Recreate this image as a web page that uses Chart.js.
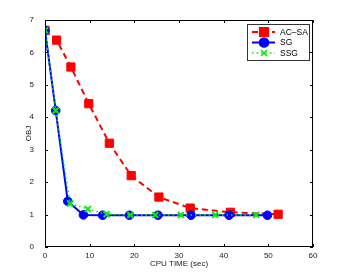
<!DOCTYPE html>
<html>
<head>
<meta charset="utf-8">
<script src="https://cdn.jsdelivr.net/npm/chart.js@4"></script>
<style>
  html, body { margin: 0; padding: 0; background: #fff; }
  #wrap { width: 346px; height: 277px; }
</style>
</head>
<body>
<div id="wrap"><canvas id="objChart" width="346" height="277"></canvas></div>
<script>
// values
const acsaTime = [0, 2.6, 5.8, 9.8, 14.4, 19.3, 25.5, 32.5, 41.5, 52.2];
const acsaObj  = [6.68, 6.38, 5.55, 4.42, 3.2, 2.2, 1.54, 1.2, 1.07, 1.01];
const sgTime = [0, 2.4, 5.1, 8.6, 12.9, 18.9, 25.3, 32.7, 41.2, 49.8];
const sgObj  = [6.68, 4.21, 1.41, 0.99, 0.98, 0.98, 0.98, 0.98, 0.98, 0.98];
const ssgTime = [0, 2.4, 5.6, 9.6, 13.8, 19.1, 24.7, 30.4, 38.1, 47.3];
const ssgObj  = [6.68, 4.21, 1.34, 1.17, 1.01, 0.99, 0.99, 0.99, 0.99, 0.99];
const xTicks = [0, 10, 20, 30, 40, 50, 60];
const yTicks = [0, 1, 2, 3, 4, 5, 6, 7];

const FONT = 'Liberation Sans, Arial, sans-serif';
const ctx = document.getElementById('objChart').getContext('2d');

function toPoints(xs, ys) {
  return xs.map((x, i) => ({ x: x, y: ys[i] }));
}

const series = [
  { label: 'AC\u2013SA', color: '#ff0000', dash: [6, 4], width: 2, point: 'rect', radius: 5.8, order: 3 },
  { label: 'SG', color: '#0000ff', dash: [], width: 2, point: 'circle', radius: 4.3, order: 2 },
  { label: 'SSG', color: '#00ee00', dash: [1.5, 3], width: 1.5, point: 'crossRot', radius: 4.2, order: 1 }
];

// box, inward ticks, axis titles and legend like the matlab figure
const framePlugin = {
  id: 'frame',
  afterDatasetsDraw(chart) {
    const c = chart.ctx;
    const a = chart.chartArea;
    const xs = chart.scales.x, ys = chart.scales.y;
    c.save();
    c.strokeStyle = '#000';
    c.lineWidth = 1;
    c.setLineDash([]);
    c.strokeRect(a.left + 0.5, a.top + 0.5, a.right - a.left - 1, a.bottom - a.top - 1);
    c.beginPath();
    xTicks.forEach(v => {
      const px = Math.round(xs.getPixelForValue(v)) + 0.5;
      c.moveTo(px, a.bottom); c.lineTo(px, a.bottom - 3);
      c.moveTo(px, a.top); c.lineTo(px, a.top + 3);
    });
    yTicks.forEach(v => {
      const py = Math.round(ys.getPixelForValue(v)) + 0.5;
      c.moveTo(a.left, py); c.lineTo(a.left + 3, py);
      c.moveTo(a.right, py); c.lineTo(a.right - 3, py);
    });
    c.stroke();

    // axis titles
    c.fillStyle = '#222';
    c.font = '8px ' + FONT;
    c.textAlign = 'center';
    c.textBaseline = 'middle';
    c.fillText('CPU TIME (sec)', (a.left + a.right) / 2, 264);
    c.save();
    c.translate(29, (a.top + a.bottom) / 2);
    c.rotate(-Math.PI / 2);
    c.fillText('OBJ', 0, 0);
    c.restore();

    // legend
    const bx = 247, by = 24, bw = 62, bh = 36;
    c.fillStyle = '#fff';
    c.fillRect(bx, by, bw, bh);
    c.strokeStyle = '#333';
    c.strokeRect(bx + 0.5, by + 0.5, bw, bh);
    c.textAlign = 'left';
    c.font = '8.5px ' + FONT;
    series.forEach((s, i) => {
      const ly = by + 8 + i * 10.5;
      c.strokeStyle = s.color;
      c.lineWidth = s.width;
      c.setLineDash(s.dash);
      c.beginPath();
      c.moveTo(bx + 5, ly); c.lineTo(bx + 28, ly);
      c.stroke();
      c.setLineDash([]);
      c.fillStyle = s.color;
      Chart.helpers.drawPoint(c, {
        pointStyle: s.point, radius: s.radius, borderWidth: s.point === 'crossRot' ? 2 : 1, rotation: 0
      }, bx + 17, ly);
      c.fillStyle = '#000';
      c.fillText(s.label, bx + 33, ly + 0.5);
    });
    c.restore();
  }
};

new Chart(ctx, {
  type: 'line',
  data: {
    datasets: [
      [acsaTime, acsaObj],
      [sgTime, sgObj],
      [ssgTime, ssgObj]
    ].map((d, i) => ({
      label: series[i].label,
      data: toPoints(d[0], d[1]),
      order: series[i].order,
      borderColor: series[i].color,
      backgroundColor: series[i].color,
      borderWidth: series[i].width,
      borderDash: series[i].dash,
      pointStyle: series[i].point,
      pointRadius: series[i].radius,
      pointBorderWidth: series[i].point === 'crossRot' ? 2 : 1,
      pointBorderColor: series[i].color,
      pointBackgroundColor: series[i].color,
      tension: 0,
      fill: false
    }))
  },
  options: {
    responsive: false,
    animation: false,
    layout: { padding: { left: 0, top: 20, right: 33, bottom: 0 } },
    plugins: {
      legend: { display: false },
      tooltip: { enabled: false }
    },
    scales: {
      x: {
        type: 'linear',
        min: 0, max: 60,
        afterBuildTicks: s => { s.ticks = xTicks.map(v => ({ value: v })); },
        afterFit: s => { s.height = 30; },
        grid: { display: false },
        border: { display: false },
        ticks: { color: '#222', font: { family: FONT, size: 8 }, padding: -4, maxRotation: 0 }
      },
      y: {
        type: 'linear',
        min: 0, max: 7,
        afterBuildTicks: s => { s.ticks = yTicks.map(v => ({ value: v })); },
        afterFit: s => { s.width = 45; },
        grid: { display: false },
        border: { display: false },
        ticks: { color: '#222', font: { family: FONT, size: 8 }, padding: 3 }
      }
    }
  },
  plugins: [framePlugin]
});
</script>
</body>
</html>
